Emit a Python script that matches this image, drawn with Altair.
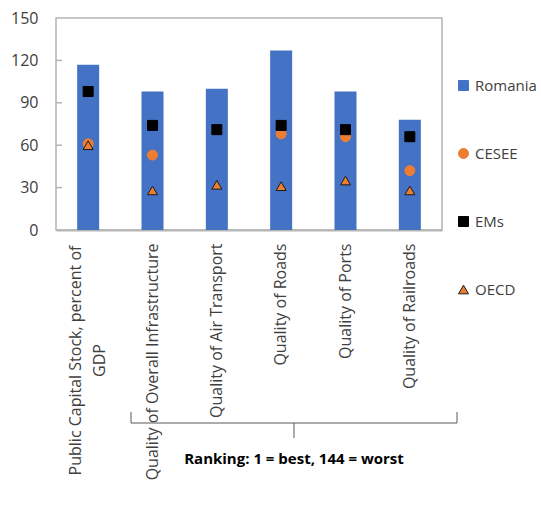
import altair as alt
import pandas as pd

# Indicator categories along the x axis
categories = [
    "Public Capital Stock, percent of GDP",
    "Quality of Overall Infrastructure",
    "Quality of Air Transport",
    "Quality of Roads",
    "Quality of Ports",
    "Quality of Railroads",
]

# Values per group (capital stock in % of GDP, the rest are rankings)
romania = [117, 98, 100, 127, 98, 78]
cesee = [61, 53, 71, 68, 66, 42]
ems = [98, 74, 71, 74, 71, 66]
oecd = [60, 28, 32, 31, 35, 28]

series = ["Romania", "CESEE", "EMs", "OECD"]
fill_colors = ["#4472C4", "#ED7D31", "#000000", "#ED7D31"]
shapes = ["square", "circle", "square", "triangle-up"]
stroke_colors = ["#4472C4", "#ED7D31", "#000000", "#1A1A1A"]

y_ticks = [0, 30, 60, 90, 120, 150]
inner_ticks = [30, 60, 90, 120]

FONT = "Open Sans"
TEXT = "#404040"
FRAME = "#B4B4B4"
FIRST = categories[0]
first_test = "datum.value == '" + FIRST + "'"

bars_df = pd.DataFrame({"category": categories, "value": romania, "series": "Romania"})
points_df = pd.concat(
    [
        pd.DataFrame({"category": categories, "value": vals, "series": name})
        for name, vals in [("CESEE", cesee), ("EMs", ems), ("OECD", oecd)]
    ],
    ignore_index=True,
)
points_df["draw"] = range(len(points_df))

x_enc = alt.X(
    "category:N",
    sort=categories,
    scale=alt.Scale(paddingInner=0, paddingOuter=0),
    axis=alt.Axis(
        title=None,
        labelAngle=-90,
        labelAlign={"condition": {"test": first_test, "value": "center"}, "value": "right"},
        labelPadding={"condition": {"test": first_test, "value": 130}, "value": 13},
        labelOffset={"condition": {"test": first_test, "value": -12}, "value": 0},
        labelBaseline="middle",
        labelLimit=0,
        labelFontSize=16,
        labelFont=FONT,
        labelColor=TEXT,
        labelLineHeight=24,
        ticks=False,
        domain=True,
        domainColor=FRAME,
        domainWidth=2,
        labelExpr="datum.label == '" + FIRST + "' ? "
        "['Public Capital Stock, percent of', 'GDP'] : datum.label",
    ),
)

y_scale = alt.Scale(domain=[0, 150])
y_enc = alt.Y(
    "value:Q",
    scale=y_scale,
    axis=alt.Axis(
        title=None,
        values=y_ticks,
        tickSize=0,
        labelPadding=18,
        domain=False,
        grid=False,
        labelFontSize=16,
        labelFont=FONT,
        labelColor=TEXT,
    ),
)

color_scale = alt.Scale(domain=series, range=fill_colors)
shape_scale = alt.Scale(domain=series, range=shapes)
stroke_scale = alt.Scale(domain=series, range=stroke_colors)

legend = alt.Legend(
    title=None,
    orient="none",
    legendX=400,
    legendY=60,
    rowPadding=52,
    symbolSize=100,
    labelFontSize=15,
    labelFont=FONT,
    labelColor=TEXT,
    labelOffset=4,
    symbolStrokeWidth=1,
)

bars = alt.Chart(bars_df).mark_bar(size=22).encode(
    x=x_enc,
    y=y_enc,
    color=alt.Color("series:N", scale=color_scale, legend=legend),
)

points = alt.Chart(points_df).mark_point(filled=True, size=100, strokeWidth=1, opacity=1).encode(
    x=alt.X("category:N", sort=categories),
    y=alt.Y("value:Q", scale=y_scale),
    color=alt.Color("series:N", scale=color_scale, legend=legend),
    shape=alt.Shape("series:N", scale=shape_scale, legend=legend),
    stroke=alt.Stroke("series:N", scale=stroke_scale, legend=legend),
    order=alt.Order("draw:Q"),
)

ticks = alt.Chart(pd.DataFrame({"v": inner_ticks})).mark_rule(color=FRAME, strokeWidth=1.5).encode(
    y=alt.Y("v:Q", scale=y_scale),
    x=alt.value(0),
    x2=alt.value(6),
)

# Brace grouping the ranking indicators
one = pd.DataFrame({"k": [0]})
brace_color = "#595959"
brace_h = alt.Chart(one).mark_rule(color=brace_color, strokeWidth=1).encode(
    x=alt.value(75), x2=alt.value(401), y=alt.value(405)
)
brace_l = alt.Chart(one).mark_rule(color=brace_color, strokeWidth=1).encode(
    x=alt.value(75), y=alt.value(394), y2=alt.value(405)
)
brace_r = alt.Chart(one).mark_rule(color=brace_color, strokeWidth=1).encode(
    x=alt.value(401), y=alt.value(394), y2=alt.value(405)
)
brace_c = alt.Chart(one).mark_rule(color=brace_color, strokeWidth=1).encode(
    x=alt.value(238), y=alt.value(405), y2=alt.value(420)
)
brace_text = alt.Chart(one).mark_text(
    text="Ranking: 1 = best, 144 = worst",
    fontWeight="bold",
    fontSize=15,
    font=FONT,
    color="#000000",
).encode(x=alt.value(238), y=alt.value(441))

chart = (
    alt.layer(bars, points, ticks, brace_h, brace_l, brace_r, brace_c, brace_text)
    .properties(
        width=386,
        height=212,
        padding={"left": 56, "top": 18, "right": 99, "bottom": 275},
        autosize=alt.AutoSizeParams(type="none"),
        background="white",
    )
    .configure_view(stroke=FRAME, strokeWidth=1.5)
)

chart.save("out.html", embed_options={"renderer": "svg", "actions": False})
